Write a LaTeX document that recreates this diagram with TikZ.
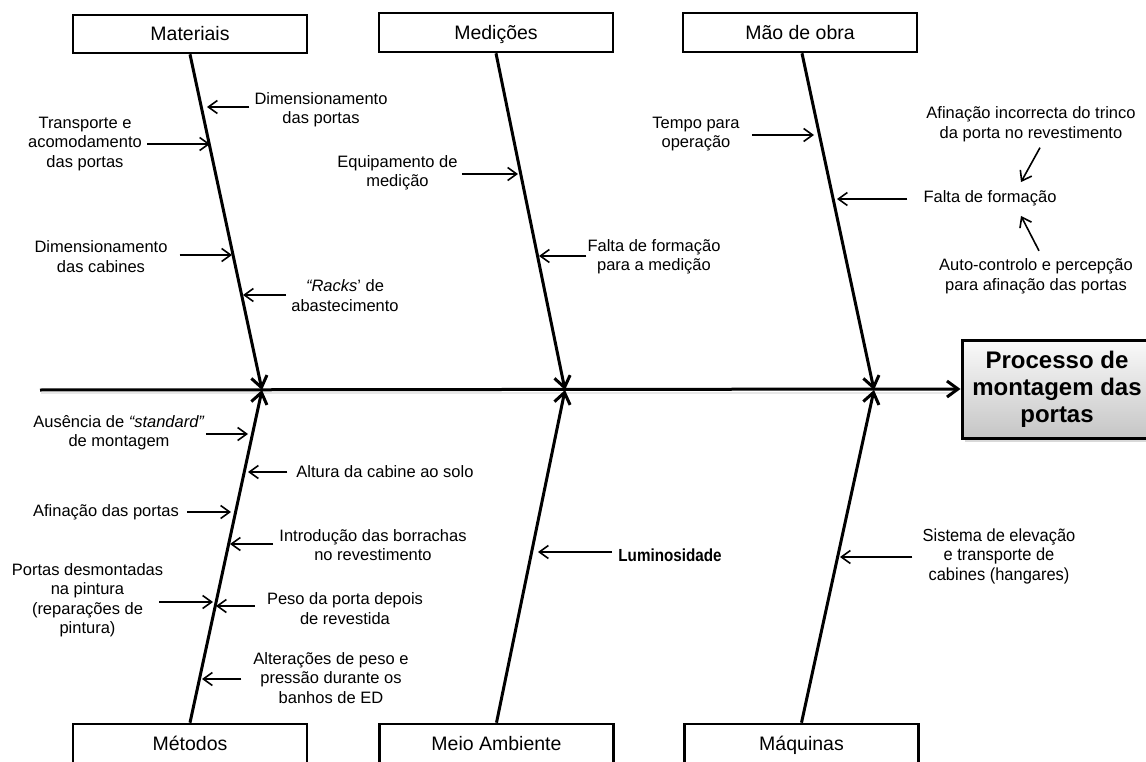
\documentclass[tikz,border=0pt]{standalone}
\usepackage{fontspec}
\setmainfont{Liberation Sans}
\newfontfamily\narrowfont[FakeStretch=0.94]{Liberation Sans}
\newfontfamily\narrowboldfont[FakeStretch=0.87]{Liberation Sans Bold}
\usetikzlibrary{arrows.meta,shadows,calc}
\begin{document}
\begin{tikzpicture}[x=1pt,y=-1pt,
  catbox/.style={draw, line width=2.6pt, minimum width=234pt, minimum height=39pt, inner sep=0pt,
    text height=14pt, text depth=0pt, font=\fontsize{19.5}{22}\selectfont},
  spine/.style={line width=3pt, -{Straight Barb[length=11pt,width=16pt]}},
  cause/.style={line width=1.6pt, -{Straight Barb[length=9pt,width=13pt]}},
  lbl/.style={align=center, inner sep=0pt, font=\fontsize{16.5}{19.5}\selectfont},
  nlbl/.style={align=center, inner sep=0pt, font=\narrowfont\fontsize{17.5}{19.5}\selectfont},
]
\useasboundingbox (0,0) rectangle (1146,762);

% category boxes
\node[catbox, minimum height=38pt] (mat) at (190,34) {Materiais};
\node[catbox] (med) at (496,32.5) {Medições};
\node[catbox] (mao) at (800,32.5) {Mão de obra};
\node[catbox] (met) at (190,743.5) {Métodos};
\node[catbox] (mei) at (496.5,743.5) {Meio Ambiente};
\node[catbox] (maq) at (801.5,743.5) {Máquinas};

% result box
\node[draw, line width=3pt, minimum width=190pt, minimum height=98pt,
  top color=gray!4, bottom color=gray!45,
  drop shadow={opacity=0.3, shadow xshift=3pt, shadow yshift=-4pt},
  align=center, inner sep=0pt, font=\bfseries\fontsize{24}{27}\selectfont]
  (res) at (1057,389) {Processo de\\montagem das\\portas};

% main line
\coordinate (start) at (40,390);
\draw[line width=2.5pt, gray!18] (41,393) -- (950,393);
\draw[spine] (start) -- (res.west);

% junctions and spines
\coordinate (j1) at (262,390);
\coordinate (j2) at (565,390);
\coordinate (j3) at (874,390);
\draw[spine] (mat.south) -- (j1);
\draw[spine] (med.south) -- (j2);
\draw[spine] ([xshift=2pt]mao.south) -- (j3);
\draw[spine] (met.north) -- (j1);
\draw[spine] (mei.north) -- (j2);
\draw[spine] (maq.north) -- (j3);

% ---------- Materiais
\node[lbl] (c1) at (321,109.5) {Dimensionamento\\das portas};
\coordinate (t1) at (207,107);
\draw[cause] ($(c1.west|-t1)+(-5,0)$) -- (t1);

\node[lbl] (c2) at (85,144) {Transporte e\\acomodamento\\das portas};
\coordinate (t2) at (210,144);
\draw[cause] ($(c2.east|-t2)+(5,0)$) -- (t2);

\node[lbl] (c3) at (101,256.5) {Dimensionamento\\das cabines};
\coordinate (t3) at (232,255);
\draw[cause] ($(c3.east|-t3)+(12,0)$) -- (t3);

\node[lbl] (c4) at (345,295.5) {\textit{“Racks}’ de\\abastecimento};
\coordinate (t4) at (243,295);
\draw[cause] ($(c4.west|-t4)+(-5,0)$) -- (t4);

% ---------- Medições
\node[lbl] (c5) at (397.5,173) {Equipamento de\\medição};
\coordinate (t5) at (518,174);
\draw[cause] ($(c5.east|-t5)+(4,0)$) -- (t5);

\node[lbl] (c6) at (654,257) {Falta de formação\\para a medição};
\coordinate (t6) at (539,256);
\draw[cause] ($(c6.west|-t6)+(-1,0)$) -- (t6);

% ---------- Mão de obra
\node[lbl] (c7) at (696,134) {Tempo para\\operação};
\coordinate (t7) at (814,135);
\draw[cause] ($(c7.east|-t7)+(12,0)$) -- (t7);

\node[lbl] (c8) at (990,198) {Falta de formação};
\coordinate (t8) at (837,199);
\draw[cause] ($(c8.west|-t8)+(-16,0)$) -- (t8);

\node[lbl] (c9) at (1031,124) {Afinação incorrecta do trinco\\da porta no revestimento};
\draw[cause] ($(c9.south)+(9,6)$) -- ($(c8.north)+(31,-8)$);

\node[lbl] (c10) at (1036,276.5) {Auto-controlo e percepção\\para afinação das portas};
\draw[cause] ($(c10.north)+(3,-8)$) -- ($(c8.south)+(31,10)$);

% ---------- Métodos
\node[lbl] (c11) at (119,432.5) {Ausência de \textit{“standard”}\\de montagem};
\coordinate (t11) at (248,434);
\draw[cause] ($(c11.east|-t11)+(1,0)$) -- (t11);

\node[lbl] (c12) at (385,472) {Altura da cabine ao solo};
\coordinate (t12) at (248,472);
\draw[cause] ($(c12.west|-t12)+(-9,0)$) -- (t12);

\node[lbl] (c13) at (106,512) {Afinação das portas};
\coordinate (t13) at (231,512);
\draw[cause] ($(c13.east|-t13)+(8,0)$) -- (t13);

\node[lbl] (c14) at (373,545) {Introdução das borrachas\\no revestimento};
\coordinate (t14) at (230,544);
\draw[cause] ($(c14.west|-t14)+(-6,0)$) -- (t14);

\node[lbl] (c15) at (87.5,600) {Portas desmontadas\\na pintura\\(reparações de\\pintura)};
\coordinate (t15) at (213,602);
\draw[cause] ($(c15.center|-t15)+(71.5,0)$) -- (t15);

\node[lbl] (c16) at (345,608.5) {Peso da porta depois\\de revestida};
\coordinate (t16) at (216,606);
\draw[cause] ($(c16.west|-t16)+(-12,0)$) -- (t16);

\node[lbl] (c17) at (331,678) {Alterações de peso e\\pressão durante os\\banhos de ED};
\coordinate (t17) at (202,679);
\draw[cause] ($(c17.west|-t17)+(-12,0)$) -- (t17);

% ---------- Meio Ambiente
\node[lbl, font=\narrowboldfont\fontsize{17.5}{19.5}\selectfont] (c18) at (670,555) {Luminosidade};
\coordinate (t18) at (538,552);
\draw[cause] ($(c18.west|-t18)+(-6,0)$) -- (t18);

% ---------- Máquinas
\node[nlbl] (c19) at (999,556) {Sistema de elevação\\e transporte de\\cabines (hangares)};
\coordinate (t19) at (840,557);
\draw[cause] ($(c19.west|-t19)+(-10,0)$) -- (t19);

\end{tikzpicture}
\end{document}
